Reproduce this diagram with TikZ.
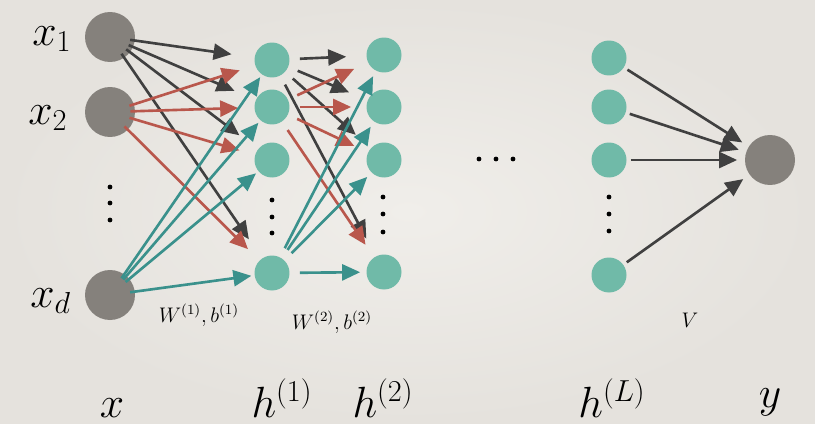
\documentclass[tikz,border=0pt]{standalone}
\usepackage{tikz}
\usepackage{xcolor}
\usetikzlibrary{arrows.meta}
\definecolor{paper}{RGB}{240,238,234}
\definecolor{paperdark}{RGB}{229,226,221}
\definecolor{unitgray}{RGB}{133,129,124}
\definecolor{unitteal}{RGB}{112,186,168}
\definecolor{wdarkc}{RGB}{64,64,64}
\definecolor{wredc}{RGB}{185,87,76}
\definecolor{wtealc}{RGB}{58,145,140}
\newcommand{\lblbig}{\fontsize{25}{29}\selectfont}
\newcommand{\lblmid}{\fontsize{23}{27}\selectfont}
\newcommand{\lblsmall}{\fontsize{11.5}{13}\selectfont}

\begin{document}
\begin{tikzpicture}[
    x=0.02cm, y=-0.02cm,
    inp/.style={circle,fill=unitgray,minimum size=1cm,inner sep=0pt},
    hid/.style={circle,fill=unitteal,minimum size=0.7cm,inner sep=0pt},
    lbl/.style={inner sep=0pt},
    wtip/.style={-{Triangle[length=0.36cm,width=0.32cm]},line width=1.5pt},
    wdark/.style={wtip,draw=wdarkc,shorten <=-0.1cm,shorten >=0.46cm},
    wred/.style={wtip,draw=wredc,shorten <=-0.1cm,shorten >=0.32cm},
    wteal/.style={wtip,draw=wtealc,shorten <=-0.1cm,shorten >=0.06cm}
  ]
    % paper
    \shade[inner color=paper,outer color=paperdark] (0,0) rectangle (815,423);
    \useasboundingbox (0,0) rectangle (815,423);

    % units
    \node[inp] (x1) at (110,37) {};
    \node[inp] (x2) at (110,112) {};
    \node[inp] (xd) at (110,295) {};
    \node[hid] (h11) at (272,60) {};
    \node[hid] (h12) at (272,107) {};
    \node[hid] (h13) at (272,160) {};
    \node[hid] (h1d) at (272,273) {};
    \node[hid] (h21) at (384,55) {};
    \node[hid] (h22) at (384,107) {};
    \node[hid] (h23) at (384,160) {};
    \node[hid] (h2d) at (384,272) {};
    \node[hid] (hL1) at (609,58) {};
    \node[hid] (hL2) at (609,107) {};
    \node[hid] (hL3) at (609,160) {};
    \node[hid] (hLd) at (609,275) {};
    \node[inp] (out) at (770,160) {};

    % dots
    \foreach \px/\py in {110/187,110/203,110/220,272/200,272/217,272/233,
        383/197,383/214,383/232,609/197,609/214,609/231,479/159,496/159,513/159}
      \fill (\px,\py) circle (2.4);

    % first layer
    \foreach \t in {h11,h12,h13,h1d} \draw[wdark] (x1) -- (\t);
    \foreach \t in {h11,h12,h13,h1d} \draw[wred] (x2) -- (\t);
    \foreach \t in {h11,h12,h13,h1d} \draw[wteal] (xd) -- (\t);

    % second layer
    \foreach \t in {h21,h22,h23,h2d} \draw[wdark,shorten <=0.2cm,shorten >=0.4cm] (h11) -- (\t);
    \foreach \t in {h21,h22,h23,h2d} \draw[wred,shorten <=0.2cm,shorten >=0.3cm] (h12) -- (\t);
    \foreach \t in {h21,h22,h23,h2d} \draw[wteal,shorten <=0.2cm,shorten >=0.12cm] (h1d) -- (\t);

    % output layer
    \foreach \s in {hL1,hL2,hL3,hLd} \draw[wdark,shorten <=0.08cm,shorten >=0.15cm] (\s) -- (out);

    % labels
    \node[lbl,anchor=base west,font=\lblmid] (lx1) at (32,45) {$x_1$};
    \node[lbl,anchor=base west,font=\lblmid] (lx2) at (28,124) {$x_2$};
    \node[lbl,anchor=base west,font=\lblmid] (lxd) at (30,307) {$x_d$};
    \node[lbl,font=\lblsmall] (lw1) at (199,315) {$W^{(1)},b^{(1)}$};
    \node[lbl,font=\lblsmall] (lw2) at (332,322) {$W^{(2)},b^{(2)}$};
    \node[lbl,font=\lblsmall] (lv) at (690,320) {$V$};
    \node[lbl,anchor=base,font=\lblbig] (lx) at (112,417) {$x$};
    \node[lbl,anchor=base,font=\lblbig] (lh1) at (282,417) {$h^{(1)}$};
    \node[lbl,anchor=base,font=\lblbig] (lh2) at (383,417) {$h^{(2)}$};
    \node[lbl,anchor=base,font=\lblbig] (lhL) at (612,417) {$h^{(L)}$};
    \node[lbl,anchor=base,font=\lblbig] (ly) at (770,407) {$y$};
  \end{tikzpicture}
\end{document}
